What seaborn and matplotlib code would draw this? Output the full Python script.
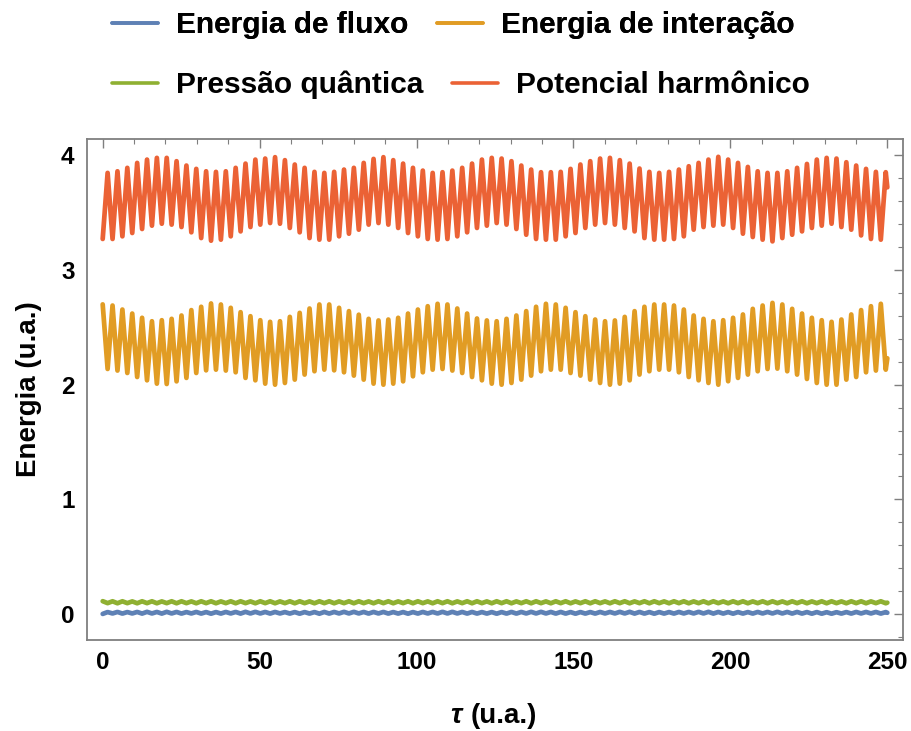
import numpy as np
import pandas as pd
import matplotlib
matplotlib.use("Agg")
import matplotlib.pyplot as plt
import seaborn as sns
from matplotlib.lines import Line2D
from matplotlib.ticker import MultipleLocator

# Extrema of each curve, one value every half period (tau = 0 ... 249.5)
harmonic = [
    3.270, 3.846, 3.270, 3.860, 3.293, 3.890, 3.322, 3.933, 3.357, 3.962,
    3.386, 3.977, 3.403, 3.977, 3.395, 3.948, 3.374, 3.910, 3.328, 3.881,
    3.278, 3.860, 3.255, 3.855, 3.264, 3.860, 3.293, 3.890, 3.336, 3.927,
    3.374, 3.962, 3.395, 3.971, 3.409, 3.983, 3.403, 3.957, 3.366, 3.919,
    3.328, 3.890, 3.278, 3.855, 3.264, 3.846, 3.264, 3.855, 3.293, 3.875,
    3.316, 3.890, 3.351, 3.933, 3.395, 3.968, 3.409, 3.983, 3.395, 3.957,
    3.366, 3.927, 3.322, 3.890, 3.293, 3.866, 3.270, 3.846, 3.264, 3.852,
    3.270, 3.866, 3.293, 3.890, 3.328, 3.927, 3.366, 3.962, 3.386, 3.977,
    3.409, 3.971, 3.395, 3.948, 3.357, 3.910, 3.307, 3.875, 3.270, 3.852,
    3.264, 3.852, 3.264, 3.855, 3.293, 3.881, 3.322, 3.919, 3.366, 3.948,
    3.395, 3.971, 3.409, 3.977, 3.395, 3.957, 3.366, 3.927, 3.336, 3.884,
    3.278, 3.855, 3.264, 3.846, 3.264, 3.855, 3.270, 3.875, 3.293, 3.904,
    3.351, 3.933, 3.374, 3.962, 3.386, 3.986, 3.395, 3.962, 3.366, 3.933,
    3.316, 3.898, 3.287, 3.860, 3.264, 3.846, 3.249, 3.846, 3.278, 3.860,
    3.307, 3.890, 3.336, 3.924, 3.366, 3.962, 3.386, 3.977, 3.403, 3.971,
    3.374, 3.939, 3.351, 3.910, 3.301, 3.881, 3.270, 3.855, 3.264, 3.852,
]

interaction = [
    2.700, 2.137, 2.690, 2.123, 2.655, 2.102, 2.620, 2.067, 2.583, 2.038,
    2.553, 2.009, 2.562, 2.006, 2.574, 2.029, 2.603, 2.059, 2.650, 2.102,
    2.679, 2.125, 2.708, 2.131, 2.699, 2.123, 2.670, 2.108, 2.632, 2.059,
    2.597, 2.038, 2.562, 2.009, 2.548, 2.000, 2.553, 2.015, 2.591, 2.044,
    2.626, 2.088, 2.664, 2.117, 2.699, 2.131, 2.699, 2.125, 2.670, 2.108,
    2.641, 2.079, 2.610, 2.044, 2.574, 2.009, 2.560, 2.000, 2.568, 2.009,
    2.583, 2.029, 2.620, 2.073, 2.655, 2.108, 2.684, 2.131, 2.705, 2.137,
    2.699, 2.123, 2.664, 2.102, 2.620, 2.067, 2.577, 2.038, 2.560, 2.009,
    2.553, 2.000, 2.574, 2.015, 2.603, 2.044, 2.641, 2.079, 2.679, 2.117,
    2.705, 2.131, 2.699, 2.131, 2.670, 2.102, 2.632, 2.079, 2.597, 2.044,
    2.568, 2.015, 2.553, 2.000, 2.560, 2.009, 2.591, 2.038, 2.641, 2.088,
    2.679, 2.117, 2.699, 2.131, 2.699, 2.131, 2.690, 2.108, 2.655, 2.067,
    2.603, 2.038, 2.574, 2.015, 2.553, 2.000, 2.562, 2.030, 2.583, 2.059,
    2.612, 2.088, 2.661, 2.117, 2.690, 2.137, 2.713, 2.140, 2.699, 2.117,
    2.661, 2.088, 2.620, 2.050, 2.583, 2.015, 2.562, 2.000, 2.548, 2.000,
    2.568, 2.044, 2.612, 2.067, 2.650, 2.108, 2.684, 2.123, 2.705, 2.131,
]

quantum = [
    0.113, 0.096, 0.112, 0.095, 0.112, 0.096, 0.111, 0.095, 0.112, 0.096,
    0.112, 0.095, 0.111, 0.096, 0.112, 0.095, 0.112, 0.096, 0.111, 0.095,
    0.112, 0.096, 0.112, 0.095, 0.111, 0.096, 0.112, 0.095, 0.112, 0.096,
    0.111, 0.095, 0.112, 0.096, 0.112, 0.095, 0.111, 0.096, 0.112, 0.095,
    0.112, 0.096, 0.111, 0.095, 0.112, 0.096, 0.112, 0.095, 0.111, 0.096,
    0.112, 0.095, 0.112, 0.096, 0.111, 0.095, 0.112, 0.096, 0.112, 0.095,
    0.111, 0.096, 0.112, 0.095, 0.112, 0.096, 0.111, 0.095, 0.112, 0.096,
    0.112, 0.095, 0.111, 0.096, 0.112, 0.095, 0.112, 0.096, 0.111, 0.095,
    0.112, 0.096, 0.112, 0.095, 0.111, 0.096, 0.112, 0.095, 0.112, 0.096,
    0.111, 0.095, 0.112, 0.096, 0.112, 0.095, 0.111, 0.096, 0.112, 0.095,
    0.112, 0.096, 0.111, 0.095, 0.112, 0.096, 0.112, 0.095, 0.111, 0.096,
    0.112, 0.095, 0.112, 0.096, 0.111, 0.095, 0.112, 0.096, 0.112, 0.095,
    0.111, 0.096, 0.112, 0.095, 0.112, 0.096, 0.111, 0.095, 0.112, 0.096,
    0.112, 0.095, 0.111, 0.096, 0.112, 0.095, 0.112, 0.096, 0.111, 0.095,
    0.112, 0.096, 0.112, 0.095, 0.111, 0.096, 0.112, 0.095, 0.112, 0.096,
    0.111, 0.095, 0.112, 0.096, 0.112, 0.095, 0.111, 0.096, 0.112, 0.095,
]

flux = [
    0.002, 0.018, 0.006, 0.019, 0.005, 0.018, 0.006, 0.019, 0.005, 0.020,
    0.006, 0.019, 0.005, 0.020, 0.006, 0.019, 0.005, 0.018, 0.006, 0.019,
    0.005, 0.018, 0.004, 0.018, 0.005, 0.019, 0.006, 0.019, 0.005, 0.020,
    0.006, 0.020, 0.006, 0.019, 0.005, 0.019, 0.006, 0.018, 0.005, 0.018,
    0.004, 0.018, 0.005, 0.018, 0.004, 0.019, 0.005, 0.019, 0.006, 0.020,
    0.006, 0.020, 0.006, 0.019, 0.005, 0.019, 0.006, 0.019, 0.005, 0.018,
    0.005, 0.018, 0.004, 0.018, 0.005, 0.019, 0.006, 0.019, 0.006, 0.020,
    0.006, 0.020, 0.006, 0.019, 0.005, 0.019, 0.005, 0.018, 0.005, 0.018,
    0.004, 0.018, 0.005, 0.019, 0.005, 0.019, 0.006, 0.020, 0.006, 0.020,
    0.006, 0.019, 0.005, 0.019, 0.005, 0.018, 0.004, 0.018, 0.005, 0.018,
    0.005, 0.019, 0.006, 0.019, 0.006, 0.020, 0.006, 0.020, 0.005, 0.019,
    0.005, 0.018, 0.004, 0.018, 0.005, 0.018, 0.005, 0.019, 0.006, 0.019,
    0.006, 0.020, 0.006, 0.020, 0.005, 0.019, 0.005, 0.018, 0.004, 0.018,
    0.005, 0.018, 0.005, 0.019, 0.006, 0.019, 0.006, 0.020, 0.006, 0.019,
    0.005, 0.019, 0.005, 0.018, 0.004, 0.018, 0.004, 0.017, 0.004, 0.017,
    0.005, 0.018, 0.005, 0.019, 0.006, 0.019, 0.006, 0.019, 0.005, 0.018,
]

# Values at the last instant, tau = 250
final_values = {"flux": 0.012, "interaction": 2.23, "quantum": 0.10, "harmonic": 3.72}

series_labels = {
    "flux": "Energia de fluxo",
    "interaction": "Energia de interação",
    "quantum": "Pressão quântica",
    "harmonic": "Potencial harmônico",
}
series_colors = {
    "flux": "#5E81B5",
    "interaction": "#E19C24",
    "quantum": "#8FB032",
    "harmonic": "#EB6235",
}

x_ticks = [0, 50, 100, 150, 200, 250]
y_ticks = [0, 1, 2, 3, 4]

tau_extrema = np.linspace(0.0, 249.5, len(harmonic))
tau = np.append(tau_extrema, 250.0)

series_values = {"flux": flux, "interaction": interaction,
                 "quantum": quantum, "harmonic": harmonic}
frames = []
for key, vals in series_values.items():
    frames.append(pd.DataFrame({
        "tau": tau,
        "energia": np.append(np.asarray(vals, dtype=float), final_values[key]),
        "serie": series_labels[key],
    }))
df = pd.concat(frames, ignore_index=True)

sns.set_theme(style="white")
plt.rcParams["font.family"] = ["Liberation Sans", "DejaVu Sans"]
plt.rcParams["font.weight"] = "bold"
plt.rcParams["text.color"] = "black"
plt.rcParams["axes.labelcolor"] = "black"

W, H = 912, 731
fig = plt.figure(figsize=(W / 100, H / 100), dpi=100)
ax = fig.add_axes([87 / W, 1 - 639.5 / H, (903 - 87) / W, (639.5 - 139.5) / H])

palette = {series_labels[k]: series_colors[k] for k in series_labels}
sns.lineplot(data=df, x="tau", y="energia", hue="serie", palette=palette,
             hue_order=[series_labels[k] for k in series_labels],
             estimator=None, sort=False, lw=3.4, legend=False, ax=ax,
             solid_joinstyle="round", solid_capstyle="round")

ax.set_xlim(-5, 255)
ax.set_ylim(-0.221, 4.137)
ax.set_xticks(x_ticks)
ax.set_yticks(y_ticks)
ax.set_xticklabels([str(v) for v in x_ticks])
ax.set_yticklabels([str(v) for v in y_ticks])
ax.xaxis.set_minor_locator(MultipleLocator(10))
ax.yaxis.set_minor_locator(MultipleLocator(0.2))

frame_color = "#7f7f7f"
for side in ["left", "right", "top", "bottom"]:
    ax.spines[side].set_visible(True)
    ax.spines[side].set_color(frame_color)
    ax.spines[side].set_linewidth(1.3)
ax.tick_params(axis="both", which="both", direction="in", top=True, right=True,
               color=frame_color, labelsize=17.5, labelcolor="black")
ax.tick_params(axis="both", which="major", length=6.5, width=1.0)
ax.tick_params(axis="both", which="minor", length=3.6, width=0.8)
ax.tick_params(axis="y", which="major", pad=9)
ax.tick_params(axis="x", which="major", pad=8)
for lab in ax.get_xticklabels() + ax.get_yticklabels():
    lab.set_fontweight("bold")

ax.set_xlabel("")
ax.set_ylabel("Energia (u.a.)", fontsize=20, fontweight="bold", labelpad=14,
              color="black")

# axis title below: italic tau followed by the unit
fig.text(462 / W, 1 - 716 / H, "τ", fontsize=20, fontweight="bold",
         fontstyle="italic", ha="right", va="center", color="black")
fig.text(471 / W, 1 - 716 / H, "(u.a.)", fontsize=20, fontweight="bold",
         ha="left", va="center", color="black")

# two legend rows above the frame
def legend_row(keys, x_center, y_center):
    handles = [Line2D([], [], color=series_colors[k], lw=2.6) for k in keys]
    labels = [series_labels[k] for k in keys]
    leg = fig.legend(handles, labels, ncol=2, loc="center",
                     bbox_to_anchor=(x_center / W, 1 - y_center / H),
                     frameon=False, handlelength=1.55,
                     handletextpad=0.6, columnspacing=0.95, borderpad=0,
                     prop={"weight": "bold", "size": 21.5},
                     labelcolor="black")
    return leg

leg1 = legend_row(["flux", "interaction"], 453, 25)
fig.add_artist(leg1)
legend_row(["quantum", "harmonic"], 461, 85)

fig.savefig("out.png", dpi=100, facecolor="white")
